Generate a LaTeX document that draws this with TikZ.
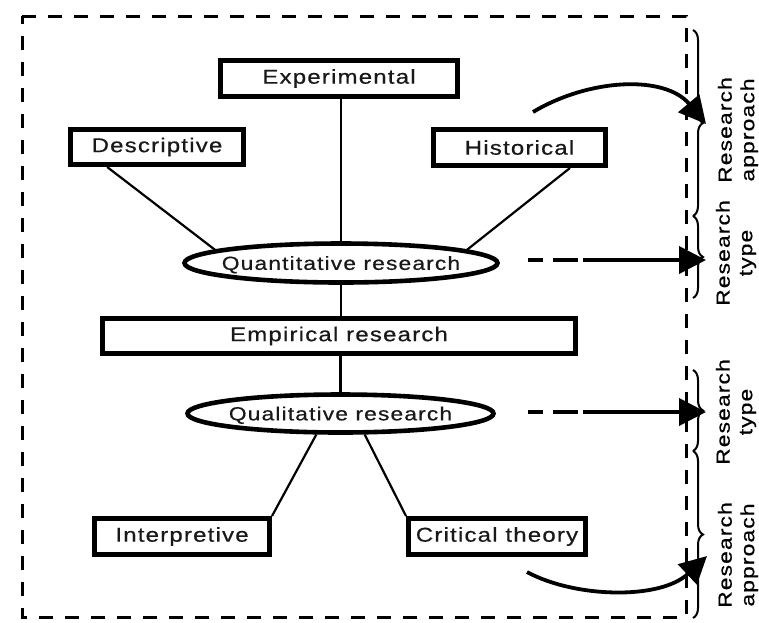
\documentclass[tikz,border=0pt]{standalone}
\usepackage{fontspec}
\setmainfont{Liberation Sans}[FakeStretch=1.2,LetterSpace=6,FakeBold=0.6]
\usetikzlibrary{arrows.meta,decorations.pathreplacing,calc,shapes.geometric}
\newcommand{\ovaltext}[1]{\makebox[0pt]{\raisebox{-0.36em}[0pt][0pt]{#1}}}
\begin{document}
\begin{tikzpicture}[x=1pt,y=-1pt,
  font=\fontsize{20}{22}\selectfont,
  box/.style={draw,line width=5pt,rectangle,inner sep=0pt,text=black!90},
  oval/.style={draw,line width=4.6pt,ellipse,inner sep=0pt,text=black!90,font=\fontsize{19}{22}\selectfont},
  conn/.style={line width=2.2pt},
  bigarrow/.style={line width=3.8pt,-{Triangle[length=27pt,width=27pt]}},
  brc/.style={line width=2pt,decorate,decoration={brace,amplitude=10pt}},
  lab/.style={rotate=90,align=center,font=\fontsize{19}{22.5}\selectfont}]
\useasboundingbox (0,0) rectangle (759,622);
% dashed frame
\draw[line width=3pt,dash pattern=on 14pt off 12pt] (22,16) -- (686,16) -- (686,617) -- (22,617) -- cycle;
% nodes
\node[box,minimum width=237pt,minimum height=36pt] (exp) at (339,78.5) {Experimental};
\node[box,minimum width=173pt,minimum height=35pt] (desc) at (157,147) {Descriptive};
\node[box,minimum width=172pt,minimum height=36pt] (hist) at (519.5,147.5) {Historical};
\node[oval,minimum width=313pt,minimum height=39pt] (quant) at (341,263) {\ovaltext{Quantitative research}};
\node[box,minimum width=473pt,minimum height=35pt] (emp) at (339,336) {Empirical research};
\node[oval,minimum width=306pt,minimum height=38pt] (qual) at (340.5,413.5) {\ovaltext{Qualitative research}};
\node[box,minimum width=175pt,minimum height=36pt] (interp) at (182,536.5) {Interpretive};
\node[box,minimum width=177pt,minimum height=36pt] (crit) at (497,536.5) {Critical theory};
% connectors
\draw[conn] (exp.south -| quant.north) -- (quant.north);
\draw[conn] ($(desc.south west)!0.22!(desc.south east)$) -- (quant.174);
\draw[conn] ($(hist.south west)!0.785!(hist.south east)$) -- (quant.6);
\draw[conn] (quant.south) -- (quant.south |- emp.north);
\draw[conn] (emp.south -| qual.north) -- (qual.north);
\draw[conn] (qual.221) -- (interp.north east);
\draw[conn] (qual.319) -- (crit.north west);
% braces
\coordinate (b1) at (693,30);
\coordinate (b2) at (693,216);
\coordinate (b3) at (693,298);
\coordinate (b4) at (693,370);
\coordinate (b5) at (693,451);
\coordinate (b6) at (693,618);
\draw[brc] (b1) -- (b2);
\draw[brc] (b2) -- (b3);
\draw[brc] (b4) -- (b5);
\draw[brc] (b5) -- (b6);
% arrows
\coordinate (t1s) at (528,260);
\coordinate (t1e) at (706,260);
\coordinate (t2s) at (528,412);
\coordinate (t2e) at (706,412);
\draw[bigarrow,dash pattern=on 15pt off 10pt on 25pt off 5pt on 300pt off 1pt] (t1s) -- (t1e);
\draw[bigarrow,dash pattern=on 15pt off 10pt on 25pt off 5pt on 300pt off 1pt] (t2s) -- (t2e);
\coordinate (c1s) at (533,112);
\coordinate (c1e) at (706,124);
\coordinate (c2s) at (527,572);
\coordinate (c2e) at (707,556);
\draw[bigarrow] (c1s) .. controls (590,78) and (665,75) .. (c1e);
\draw[bigarrow] (c2s) .. controls (575,598) and (660,600) .. (c2e);
% labels
\node[lab] (l1) at (738,130) {Research\\approach};
\node[lab] (l2) at (736,253) {Research\\type};
\node[lab] (l3) at (736,412) {Research\\type};
\node[lab] (l4) at (738,555) {Research\\approach};
\end{tikzpicture}
\end{document}
